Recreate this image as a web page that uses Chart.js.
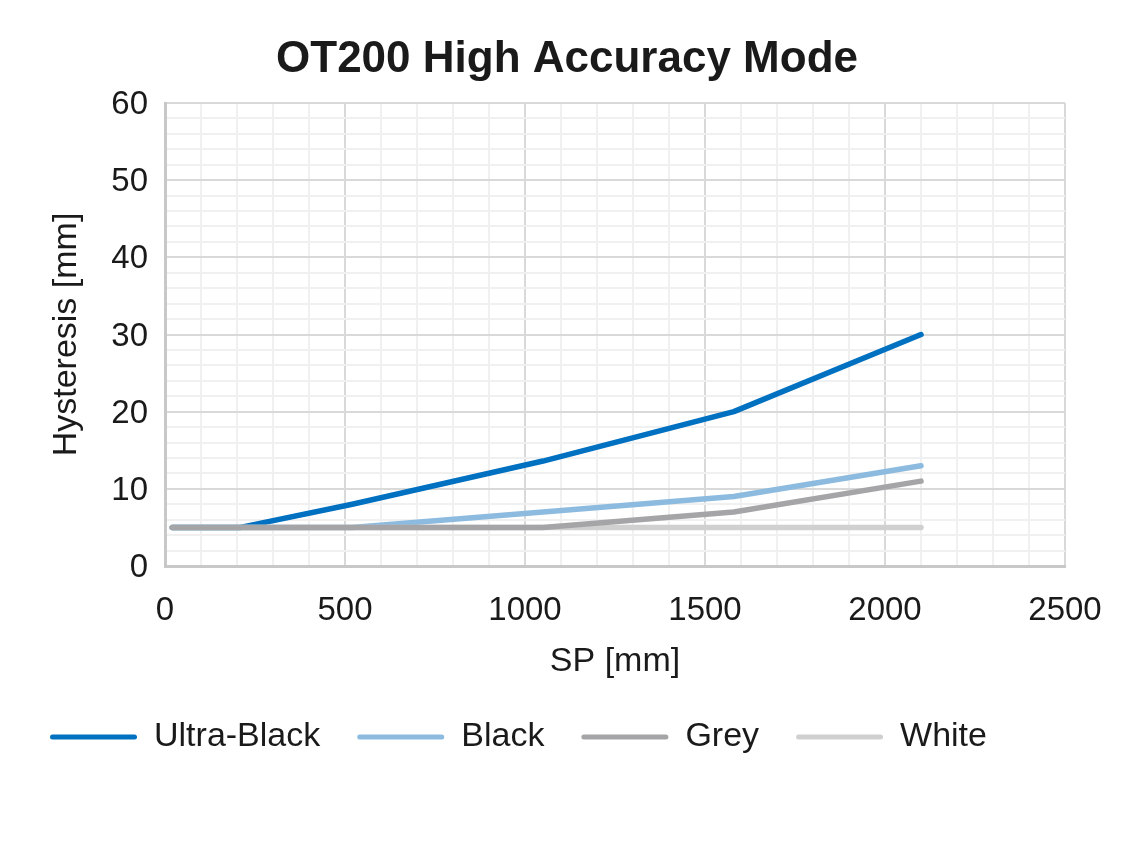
<!DOCTYPE html>
<html>
<head>
<meta charset="utf-8">
<title>OT200 High Accuracy Mode</title>
<script src="https://cdn.jsdelivr.net/npm/chart.js@4.4.0/dist/chart.umd.min.js"></script>
<style>
    html, body { margin: 0; padding: 0; background: #fff; }
    #wrap { width: 1134px; height: 864px; }
</style>
</head>
<body>
<div id="wrap"><canvas id="chart"></canvas></div>
<script>
// Values
const spValues = [20, 210, 520, 1050, 1580, 2100];
const ultraBlack = [5, 5, 8, 13.6, 20, 30];
const black = [5, 5, 5, 7, 9, 13];
const grey = [5, 5, 5, 5, 7, 11];
const white = [5, 5, 5, 5, 5, 5];

const seriesNames = ["Ultra-Black", "Black", "Grey", "White"];
const seriesColors = ["#0070C0", "#8CBBDF", "#A5A5A8", "#D0D0D0"];
// grey drawn on top, ultra-black underneath (lower order = on top)
const drawOrder = [3, 2, 0, 1];

const FONT = "'Liberation Sans', Arial, sans-serif";

function toPoints(values) {
    return spValues.map((x, i) => ({ x: x, y: values[i] }));
}

const datasets = [ultraBlack, black, grey, white].map((vals, i) => ({
    label: seriesNames[i],
    data: toPoints(vals),
    borderColor: seriesColors[i],
    backgroundColor: seriesColors[i],
    borderWidth: 5.5,
    borderCapStyle: "round",
    borderJoinStyle: "round",
    pointRadius: 0,
    tension: 0,
    order: drawOrder[i],
}));

const ctx = document.getElementById("chart").getContext("2d");
new Chart(ctx, {
    type: "line",
    data: { datasets: datasets },
    options: {
        responsive: true,
        maintainAspectRatio: false,
        animation: false,
        layout: { padding: { left: 13, right: 13, top: 0, bottom: 100 } },
        plugins: {
            title: {
                display: true,
                text: "OT200 High Accuracy Mode",
                color: "#1a1a1a",
                font: { family: FONT, size: 44, weight: "bold" },
                padding: { top: 33.6, bottom: 16.6 },
            },
            legend: {
                position: "bottom",
                align: "start",
                labels: {
                    color: "#1a1a1a",
                    font: { family: FONT, size: 34 },
                    boxWidth: 87,
                    boxHeight: 5,
                    padding: 37,
                    sort: (a, b) => a.datasetIndex - b.datasetIndex,
                    generateLabels: (chart) =>
                        Chart.defaults.plugins.legend.labels.generateLabels(chart).map((item) => ({
                            ...item,
                            fillStyle: item.strokeStyle,
                            lineWidth: 0,
                            borderRadius: 2.5,
                        })),
                },
            },
            tooltip: { enabled: false },
        },
        scales: {
            x: {
                type: "linear",
                min: 0,
                max: 2500,
                afterFit: (scale) => { scale.height = 117; },
                ticks: {
                    stepSize: 100,
                    autoSkip: false,
                    maxRotation: 0,
                    padding: 25,
                    color: "#1a1a1a",
                    font: { family: FONT, size: 33 },
                    callback: (v) => (v % 500 === 0 ? v : ""),
                },
                grid: {
                    drawTicks: false,
                    lineWidth: 2,
                    color: (c) => (c.tick && c.tick.value % 500 === 0 ? "#D9D9D9" : "#F0F0F0"),
                },
                border: { color: "#C8C8C8", width: 3 },
                title: {
                    display: true,
                    text: "SP [mm]",
                    color: "#1a1a1a",
                    font: { family: FONT, size: 34 },
                    padding: { top: 14, bottom: 0.6 },
                },
            },
            y: {
                min: 0,
                max: 60,
                afterFit: (scale) => { scale.width = 152; },
                ticks: {
                    stepSize: 2,
                    autoSkip: false,
                    padding: 17,
                    labelOffset: 2,
                    color: "#1a1a1a",
                    font: { family: FONT, size: 33 },
                    callback: (v) => (v % 10 === 0 ? v : ""),
                },
                grid: {
                    drawTicks: false,
                    lineWidth: 2,
                    color: (c) => (c.tick && c.tick.value % 10 === 0 ? "#D9D9D9" : "#F0F0F0"),
                },
                border: { color: "#C8C8C8", width: 3 },
                title: {
                    display: true,
                    text: "Hysteresis [mm]",
                    color: "#1a1a1a",
                    font: { family: FONT, size: 34 },
                    padding: { top: 33.6, bottom: 0 },
                },
            },
            // empty right-hand axis that only reserves space, so the plot ends at x=1065
            yRight: {
                position: "right",
                display: true,
                min: 0,
                max: 60,
                afterFit: (scale) => { scale.width = 56; },
                ticks: { display: false },
                grid: { display: false, drawOnChartArea: false },
                border: { display: false },
            },
        },
    },
});
</script>
</body>
</html>
